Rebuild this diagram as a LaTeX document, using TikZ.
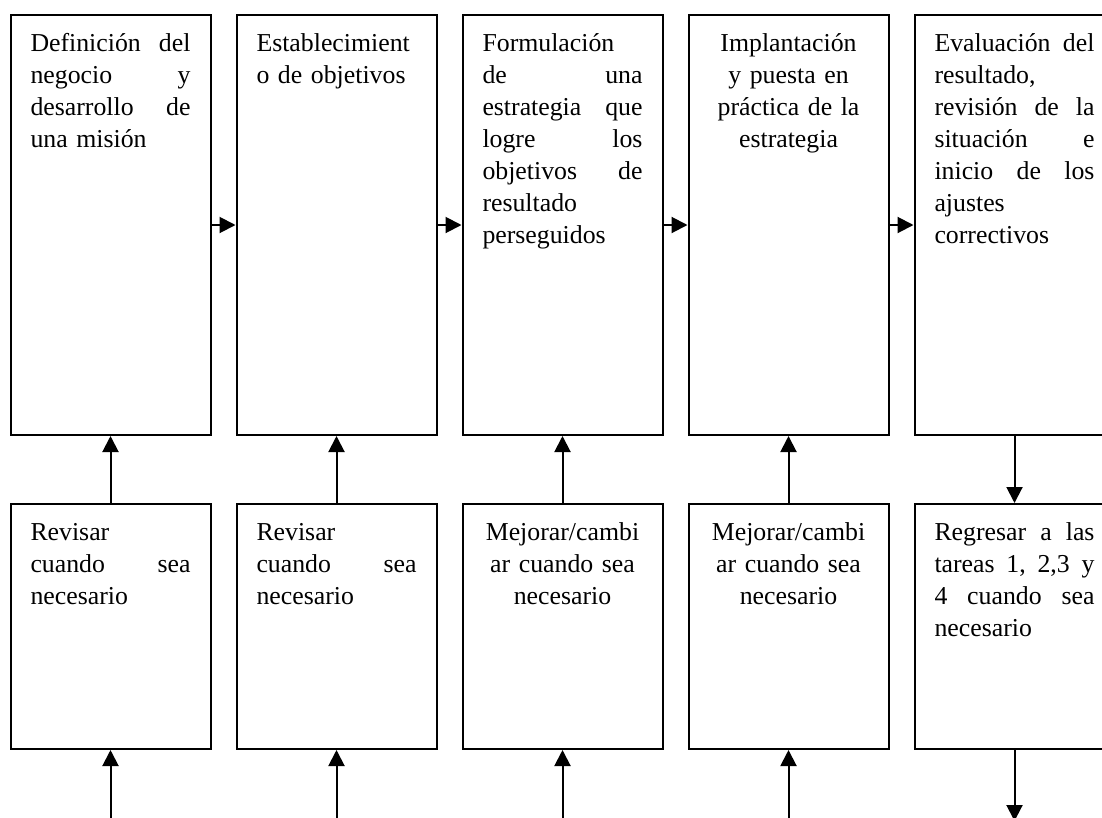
\documentclass[tikz,border=0pt]{standalone}
\usepackage{fontspec}
\setmainfont{Liberation Serif}
\usetikzlibrary{arrows.meta}
\begin{document}
\begin{tikzpicture}[x=1pt,y=-1pt,
  box/.style={draw, line width=2pt, inner xsep=20pt, inner ysep=0pt,
    text width=160pt, anchor=north, text height=36pt,
    font=\fontsize{25.8pt}{32pt}\selectfont},
  tallbox/.style={box, text depth=384pt},
  lowbox/.style={box, text depth=209pt},
  flow/.style={line width=2pt, -{Triangle[length=16pt,width=16pt]}}
]
\useasboundingbox (0,0) rectangle (1102,817);
\clip (0,0) rectangle (1102,817);

% stages of the process
\node[tallbox, align=left] (b1) at (110.5,14)
  {Definición\hfill del\\negocio\hfill y\\desarrollo\hfill de\\una misión};
\node[tallbox, align=left] (b2) at (336.5,14)
  {Establecimient\\o de objetivos};
\node[tallbox, align=left] (b3) at (562.5,14)
  {Formulación\\de\hfill una\\estrategia\hfill que\\logre\hfill los\\objetivos\hfill de\\resultado\\perseguidos};
\node[tallbox, align=center] (b4) at (788.5,14)
  {Implantación\\y puesta en\\práctica de la\\estrategia};
\node[tallbox, align=left] (b5) at (1014.5,14)
  {Evaluación\hfill del\\resultado,\\revisión\hfill de\hfill la\\situación\hfill e\\inicio\hfill de\hfill los\\ajustes\\correctivos};

% feedback row
\node[lowbox, align=left] (r1) at (110.5,503)
  {Revisar\\cuando\hfill sea\\necesario};
\node[lowbox, align=left] (r2) at (336.5,503)
  {Revisar\\cuando\hfill sea\\necesario};
\node[lowbox, align=center] (r3) at (562.5,503)
  {Mejorar/cambi\\ar cuando sea\\necesario};
\node[lowbox, align=center] (r4) at (788.5,503)
  {Mejorar/cambi\\ar cuando sea\\necesario};
\node[lowbox, align=left] (r5) at (1014.5,503)
  {Regresar\hfill a\hfill las\\tareas\hfill 1,\hfill 2,3\hfill y\\4\hfill cuando\hfill sea\\necesario};

% free ends at the lower edge
\coordinate (s1) at (110.5,830);
\coordinate (s2) at (336.5,830);
\coordinate (s3) at (562.5,830);
\coordinate (s4) at (788.5,830);
\coordinate (e5) at (1014.5,821);

% main sequence
\draw[flow] (b1.east) -- (b2.west);
\draw[flow] (b2.east) -- (b3.west);
\draw[flow] (b3.east) -- (b4.west);
\draw[flow] (b4.east) -- (b5.west);

% vertical links
\draw[flow] (r1.north) -- (b1.south);
\draw[flow] (r2.north) -- (b2.south);
\draw[flow] (r3.north) -- (b3.south);
\draw[flow] (r4.north) -- (b4.south);
\draw[flow] (b5.south) -- (r5.north);

\draw[flow] (s1) -- (r1.south);
\draw[flow] (s2) -- (r2.south);
\draw[flow] (s3) -- (r3.south);
\draw[flow] (s4) -- (r4.south);
\draw[flow] (r5.south) -- (e5);
\end{tikzpicture}
\end{document}
